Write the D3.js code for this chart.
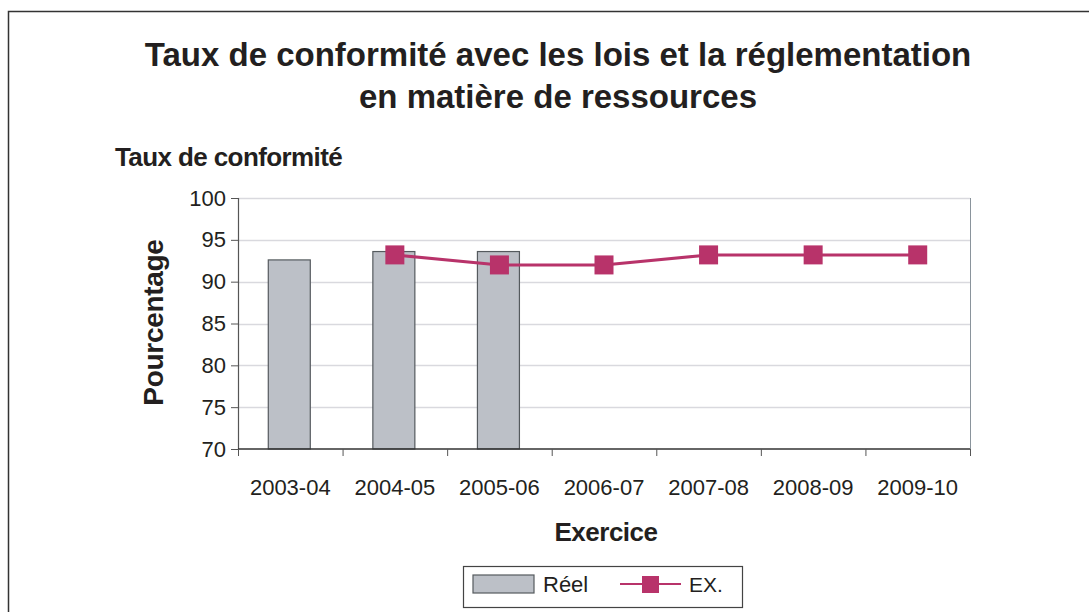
<!DOCTYPE html>
<html>
<head>
<meta charset="utf-8">
<script src="https://cdn.jsdelivr.net/npm/d3@7"></script>
<style>
  body { margin: 0; background: #fff; }
  text { font-family: "Liberation Sans", Arial, sans-serif; fill: #231f20; }
</style>
</head>
<body>
<div id="chart"></div>
<script>
const width = 1089,
    height = 612;

// data
const categories = ["2003-04", "2004-05", "2005-06", "2006-07", "2007-08", "2008-09", "2009-10"];
const reelValues = [92.6, 93.6, 93.6, null, null, null, null];
const exValues = [null, 93.2, 92.0, 92.0, 93.2, 93.2, 93.2];
const yTicks = [70, 75, 80, 85, 90, 95, 100];

const margin = { top: 198, right: 119, bottom: 163, left: 238 };
const plotW = width - margin.left - margin.right,
    plotH = height - margin.top - margin.bottom;

const svg = d3.select("#chart")
    .append("svg")
    .attr("width", width)
    .attr("height", height);

// outer frame (left + top only visible)
svg.append("path")
    .attr("d", `M8.5,${height} V11.5 H${width}`)
    .attr("fill", "none")
    .attr("stroke", "#333")
    .attr("stroke-width", 1.5);

svg.append("text")
    .attr("x", 558).attr("y", 66)
    .attr("text-anchor", "middle")
    .style("font-size", "33px").style("font-weight", "bold")
    .text("Taux de conformité avec les lois et la réglementation");
svg.append("text")
    .attr("x", 558).attr("y", 108)
    .attr("text-anchor", "middle")
    .style("font-size", "33px").style("font-weight", "bold")
    .text("en matière de ressources");

svg.append("text")
    .attr("x", 115).attr("y", 166)
    .style("font-size", "26px").style("font-weight", "bold")
    .style("letter-spacing", "-0.6px")
    .text("Taux de conformité");

const g = svg.append("g")
    .attr("transform", `translate(${margin.left},${margin.top})`);

const x = d3.scaleBand().domain(categories).range([0, plotW]);
const y = d3.scaleLinear().domain([70, 100]).range([plotH, 0]);

// gridlines
g.append("g")
    .selectAll("line")
    .data(yTicks.slice(1))
    .enter().append("line")
    .attr("x1", 0).attr("x2", plotW)
    .attr("y1", d => Math.round(y(d)) + 0.5)
    .attr("y2", d => Math.round(y(d)) + 0.5)
    .attr("stroke", "#d9d9de")
    .attr("stroke-width", 1.5);

// right border of plot area
g.append("line")
    .attr("x1", plotW + 0.5).attr("x2", plotW + 0.5)
    .attr("y1", 0).attr("y2", plotH)
    .attr("stroke", "#8a949c");

// bars
const barW = 42;
g.selectAll(".bar")
    .data(categories.map((c, i) => ({ cat: c, v: reelValues[i] })).filter(d => d.v != null))
    .enter().append("rect")
    .attr("class", "bar")
    .attr("x", d => x(d.cat) + x.bandwidth() / 2 - barW / 2 - 1)
    .attr("y", d => y(d.v))
    .attr("width", barW)
    .attr("height", d => plotH - y(d.v))
    .attr("fill", "#bcc0c7")
    .attr("stroke", "#555a5e")
    .attr("stroke-width", 1.2);

// y axis
const yAxis = g.append("g")
    .call(d3.axisLeft(y).tickValues(yTicks).tickSize(7).tickPadding(5));
yAxis.select(".domain").attr("stroke", "#555").attr("stroke-width", 1.2);
yAxis.selectAll(".tick line").attr("stroke", "#555");
yAxis.selectAll(".tick text")
    .style("font-size", "22px").attr("fill", "#231f20")
    .style("font-family", "'Liberation Sans', Arial, sans-serif");

// x axis with ticks at category boundaries
const xAxisG = g.append("g").attr("transform", `translate(0,${plotH})`);
xAxisG.append("line")
    .attr("x1", 0).attr("x2", plotW)
    .attr("stroke", "#333").attr("stroke-width", 1.5);
xAxisG.selectAll(".xtick")
    .data(categories.concat(["end"]))
    .enter().append("line")
    .attr("class", "xtick")
    .attr("x1", (d, i) => i * x.step() + 0.5)
    .attr("x2", (d, i) => i * x.step() + 0.5)
    .attr("y1", 0).attr("y2", 7)
    .attr("stroke", "#555");
xAxisG.selectAll(".xlabel")
    .data(categories)
    .enter().append("text")
    .attr("class", "xlabel")
    .attr("x", d => x(d) + x.bandwidth() / 2)
    .attr("y", 46)
    .attr("text-anchor", "middle")
    .style("font-size", "22px")
    .text(d => d);

// EX. line
const exData = categories.map((c, i) => ({ cat: c, v: exValues[i] })).filter(d => d.v != null);
const line = d3.line()
    .x(d => x(d.cat) + x.bandwidth() / 2)
    .y(d => y(d.v));
g.append("path")
    .datum(exData)
    .attr("d", line)
    .attr("fill", "none")
    .attr("stroke", "#b8336a")
    .attr("stroke-width", 3);
const mk = 19;
g.selectAll(".marker")
    .data(exData)
    .enter().append("rect")
    .attr("class", "marker")
    .attr("x", d => x(d.cat) + x.bandwidth() / 2 - mk / 2)
    .attr("y", d => y(d.v) - mk / 2)
    .attr("width", mk).attr("height", mk)
    .attr("fill", "#b8336a");

// axis titles
svg.append("text")
    .attr("x", 606).attr("y", 541)
    .attr("text-anchor", "middle")
    .style("font-size", "26px").style("font-weight", "bold")
    .style("letter-spacing", "-0.5px")
    .text("Exercice");
svg.append("text")
    .attr("transform", `translate(163,${margin.top + plotH / 2 - 1}) rotate(-90)`)
    .attr("text-anchor", "middle")
    .style("font-size", "28px").style("font-weight", "bold")
    .style("letter-spacing", "-0.3px")
    .text("Pourcentage");

// legend
const lg = svg.append("g").attr("transform", "translate(463,566)");
lg.append("rect")
    .attr("x", 0.5).attr("y", 0.5)
    .attr("width", 279).attr("height", 41)
    .attr("fill", "#fff").attr("stroke", "#444").attr("stroke-width", 1.2);
lg.append("rect")
    .attr("x", 10).attr("y", 9)
    .attr("width", 61).attr("height", 18)
    .attr("fill", "#bcc0c7").attr("stroke", "#555a5e").attr("stroke-width", 1.2);
lg.append("text")
    .attr("x", 80).attr("y", 26)
    .style("font-size", "22px")
    .text("Réel");
lg.append("line")
    .attr("x1", 157).attr("x2", 218)
    .attr("y1", 18).attr("y2", 18)
    .attr("stroke", "#b8336a").attr("stroke-width", 2);
lg.append("rect")
    .attr("x", 179).attr("y", 10)
    .attr("width", 17).attr("height", 17)
    .attr("fill", "#b8336a");
lg.append("text")
    .attr("x", 226).attr("y", 26)
    .style("font-size", "21px")
    .text("EX.");
</script>
</body>
</html>
